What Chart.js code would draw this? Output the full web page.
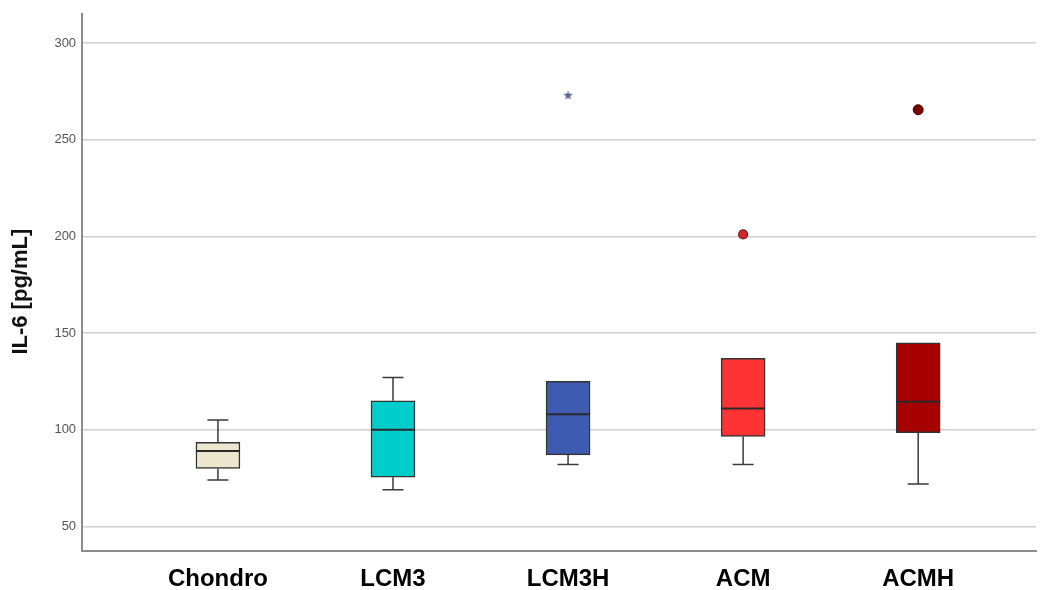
<!DOCTYPE html>
<html>
<head>
<meta charset="utf-8">
<script src="https://cdn.jsdelivr.net/npm/chart.js@4.4.0/dist/chart.umd.min.js"></script>
<style>
  html, body { margin: 0; padding: 0; background: #ffffff; }
  #wrap { width: 1042px; height: 590px; }
</style>
</head>
<body>
<div id="wrap"><canvas id="chart" width="1042" height="590"></canvas></div>
<script>
// IL-6 concentration per culture condition (box plot summary)
const categories  = ['Chondro', 'LCM3', 'LCM3H', 'ACM', 'ACMH'];
const whiskerLow  = [74, 69, 82, 82, 72];
const q1          = [80, 75.5, 87, 96.5, 98.5];
const median      = [89, 100, 108, 111, 114.5];
const q3          = [93.5, 115, 125, 137, 145];
const whiskerHigh = [105, 127, 125, 137, 145];
const boxColors   = ['#EDE6CE', '#00CCCC', '#3D5BB1', '#FF3333', '#A60000'];

// outlying observations: category index and value
const outlierIndex = [2, 3, 4];
const outlierValue = [273, 201, 265.5];

const yTicks = [50, 100, 150, 200, 250, 300];

// small filled five-pointed star used for the extreme value
function makeStar(color) {
  const c = document.createElement('canvas');
  c.width = 11; c.height = 11;
  const g = c.getContext('2d');
  g.fillStyle = color;
  g.beginPath();
  for (let k = 0; k < 10; k++) {
    const r = k % 2 === 0 ? 5 : 2.2;
    const a = -Math.PI / 2 + k * Math.PI / 5;
    const px = 5.5 + r * Math.cos(a), py = 5.8 + r * Math.sin(a);
    if (k === 0) g.moveTo(px, py); else g.lineTo(px, py);
  }
  g.closePath();
  g.fill();
  return c;
}
const starMarker = makeStar('#5A6A92');

// whisker stems, caps and median lines drawn on the chart's own scales
const boxExtras = {
  id: 'boxExtras',
  beforeDatasetsDraw(chart) {
    const { ctx, scales: { x, y } } = chart;
    ctx.save();
    ctx.strokeStyle = '#3a3a3a';
    ctx.lineWidth = 1.5;
    categories.forEach((c, i) => {
      const cx = x.getPixelForValue(i + 1);
      const cap = 10.5;
      [[whiskerLow[i], q1[i]], [whiskerHigh[i], q3[i]]].forEach(([w, edge]) => {
        if (w === edge) return;
        const yw = y.getPixelForValue(w), ye = y.getPixelForValue(edge);
        ctx.beginPath();
        ctx.moveTo(cx, yw); ctx.lineTo(cx, ye);
        ctx.moveTo(cx - cap, yw); ctx.lineTo(cx + cap, yw);
        ctx.stroke();
      });
    });
    ctx.restore();
  },
  afterDatasetsDraw(chart) {
    const { ctx, scales: { x, y } } = chart;
    const bars = chart.getDatasetMeta(0).data;
    ctx.save();
    ctx.strokeStyle = '#2a2a2a';
    ctx.lineWidth = 2;
    categories.forEach((c, i) => {
      const half = bars[i].width / 2;
      const cx = x.getPixelForValue(i + 1);
      const ym = y.getPixelForValue(median[i]);
      ctx.beginPath();
      ctx.moveTo(cx - half, ym); ctx.lineTo(cx + half, ym);
      ctx.stroke();
    });
    ctx.restore();
  }
};

new Chart(document.getElementById('chart'), {
  type: 'bar',
  data: {
    datasets: [
      {
        type: 'bar',
        data: categories.map((c, i) => ({ x: i + 1, y: [q1[i], q3[i]] })),
        backgroundColor: boxColors,
        borderColor: '#333333',
        borderWidth: 1.5,
        borderSkipped: false,
        barThickness: 44,
        order: 2
      },
      {
        type: 'scatter',
        data: outlierIndex.map((k, j) => ({ x: k + 1, y: outlierValue[j] })),
        pointStyle: [starMarker, 'circle', 'circle'],
        pointRadius: [5, 4.5, 5],
        backgroundColor: ['#5A6A92', '#D0262E', '#7A0000'],
        borderColor: ['#5A6A92', '#7A1A1A', '#4A0000'],
        borderWidth: [0, 1.2, 1],
        order: 1
      }
    ]
  },
  options: {
    responsive: false,
    animation: false,
    layout: { padding: { top: 14, right: 0, left: 0, bottom: -17 } },
    plugins: { legend: { display: false }, tooltip: { enabled: false } },
    scales: {
      x: {
        type: 'linear',
        offset: false,
        min: 0.224,
        max: 5.673,
        afterBuildTicks: (s) => { s.ticks = categories.map((c, i) => ({ value: i + 1 })); },
        grid: { display: false, drawTicks: false, offset: false },
        border: { display: true, color: '#8c8c8c', width: 2 },
        ticks: {
          autoSkip: false,
          maxRotation: 0,
          padding: 16,
          color: '#000000',
          font: { family: 'Liberation Sans, Arial, sans-serif', size: 24, weight: 'bold', lineHeight: 1.0 },
          callback: (v) => categories[Math.round(v) - 1] ?? ''
        }
      },
      y: {
        type: 'linear',
        min: 37.3,
        max: 315,
        afterBuildTicks: (s) => { s.ticks = yTicks.map(v => ({ value: v })); },
        grid: { color: '#cfcfcf', lineWidth: 1.5, drawTicks: false },
        border: { display: true, color: '#8c8c8c', width: 2 },
        ticks: {
          padding: 6,
          color: '#555555',
          font: { family: 'Liberation Sans, Arial, sans-serif', size: 13 }
        },
        title: {
          display: true,
          text: 'IL-6 [pg/mL]   ',
          color: '#111111',
          padding: { top: 8, bottom: 14 },
          font: { family: 'Liberation Sans, Arial, sans-serif', size: 22, weight: 'bold' }
        }
      }
    }
  },
  plugins: [boxExtras]
});
</script>
</body>
</html>
